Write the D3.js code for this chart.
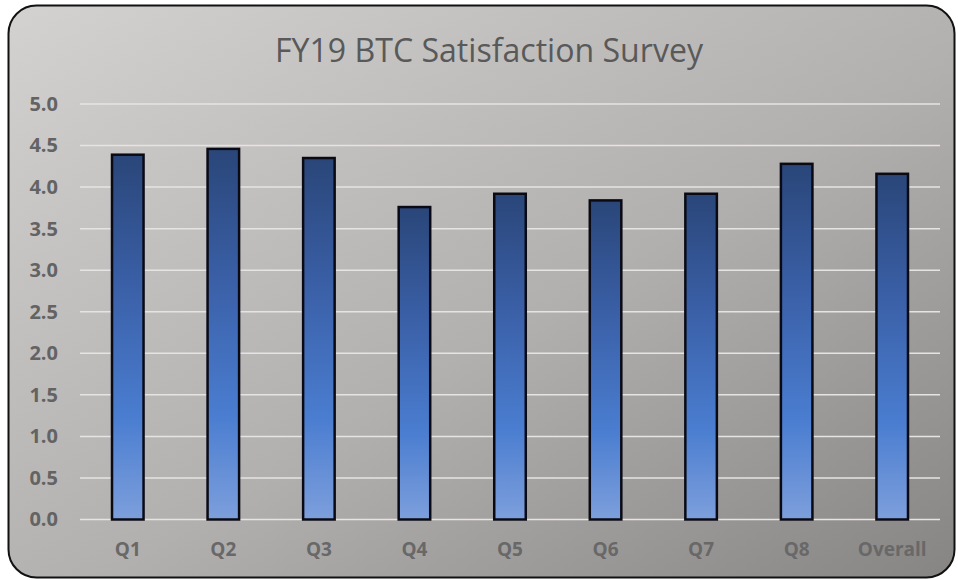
<!DOCTYPE html>
<html>
<head>
<meta charset="utf-8">
<script src="https://cdn.jsdelivr.net/npm/d3@7"></script>
<style>
  body { margin: 0; background: #fff; }
  svg { display: block; }
</style>
</head>
<body>
<div id="chart"></div>
<script>
// chart data
var categories = ['Q1', 'Q2', 'Q3', 'Q4', 'Q5', 'Q6', 'Q7', 'Q8', 'Overall'];
var scores = [4.39, 4.46, 4.35, 3.76, 3.92, 3.84, 3.92, 4.28, 4.16];
var yTicks = [0, 0.5, 1, 1.5, 2, 2.5, 3, 3.5, 4, 4.5, 5];
var chartTitle = 'FY19 BTC Satisfaction Survey';

var W = 958, H = 580;
var margin = {top: 104, right: 18, bottom: 60.5, left: 80};

var svg = d3.select('#chart').append('svg')
    .attr('width', W)
    .attr('height', H);

var defs = svg.append('defs');

// grey background fill
var bg = defs.append('linearGradient')
    .attr('id', 'bgGrad')
    .attr('x1', '0').attr('y1', '0')
    .attr('x2', '1').attr('y2', '1');
bg.append('stop').attr('offset', '0%').attr('stop-color', '#d4d2d1');
bg.append('stop').attr('offset', '55%').attr('stop-color', '#b2b0af');
bg.append('stop').attr('offset', '100%').attr('stop-color', '#878584');

// bar fill, dark at the top, light at the bottom
var barGrad = defs.append('linearGradient')
    .attr('id', 'barGrad')
    .attr('x1', '0').attr('y1', '0')
    .attr('x2', '0').attr('y2', '1');
barGrad.append('stop').attr('offset', '0%').attr('stop-color', '#2a4679');
barGrad.append('stop').attr('offset', '35%').attr('stop-color', '#3a5fa6');
barGrad.append('stop').attr('offset', '72%').attr('stop-color', '#4a7dd0');
barGrad.append('stop').attr('offset', '100%').attr('stop-color', '#7d9fdc');

svg.append('rect')
    .attr('x', 8.5).attr('y', 5.5)
    .attr('width', 946).attr('height', 572)
    .attr('rx', 28).attr('ry', 28)
    .attr('fill', 'url(#bgGrad)')
    .attr('stroke', '#111')
    .attr('stroke-width', 2);

svg.append('text')
    .attr('x', 489)
    .attr('y', 62)
    .attr('text-anchor', 'middle')
    .attr('textLength', 428)
    .attr('lengthAdjust', 'spacingAndGlyphs')
    .style('font-family', '"Open Sans", "Noto Sans", sans-serif')
    .style('font-size', '32px')
    .style('fill', '#595959')
    .text(chartTitle);

var x = d3.scaleBand()
    .domain(categories)
    .range([margin.left, W - margin.right]);

var y = d3.scaleLinear()
    .domain([0, 5])
    .range([H - margin.bottom, margin.top]);

var g = svg.append('g');

// gridlines
g.selectAll('.grid')
    .data(yTicks)
    .enter().append('line')
    .attr('class', 'grid')
    .attr('x1', margin.left)
    .attr('x2', W - margin.right)
    .attr('y1', function(d) { return y(d); })
    .attr('y2', function(d) { return y(d); })
    .attr('stroke', '#e6e4e3')
    .attr('stroke-width', 1.5);

// y axis labels
var yAxis = d3.axisLeft(y)
    .tickValues(yTicks)
    .tickFormat(d3.format('.1f'))
    .tickSize(0)
    .tickPadding(0);

var ya = svg.append('g')
    .attr('transform', 'translate(58,0)')
    .call(yAxis);
ya.select('.domain').remove();
ya.selectAll('text')
    .style('font-family', '"Open Sans", sans-serif')
    .style('font-weight', 'bold')
    .style('font-size', '20px')
    .style('fill', '#636363');

// x axis labels
var xAxis = d3.axisBottom(x)
    .tickSize(0)
    .tickPadding(0);

var xa = svg.append('g')
    .attr('transform', 'translate(0,' + (H - margin.bottom + 23) + ')')
    .call(xAxis);
xa.select('.domain').remove();
xa.selectAll('text')
    .style('font-family', '"Open Sans", sans-serif')
    .style('font-weight', 'bold')
    .style('font-size', '19px')
    .style('fill', '#686868');

// bars
var barW = x.bandwidth() * 0.33;
g.selectAll('.bar')
    .data(scores)
    .enter().append('rect')
    .attr('class', 'bar')
    .attr('x', function(d, i) { return x(categories[i]) + (x.bandwidth() - barW) / 2; })
    .attr('y', function(d) { return y(d); })
    .attr('width', barW)
    .attr('height', function(d) { return y(0) - y(d); })
    .attr('fill', 'url(#barGrad)')
    .attr('stroke', '#0a0a14')
    .attr('stroke-width', 2.5);
</script>
</body>
</html>
